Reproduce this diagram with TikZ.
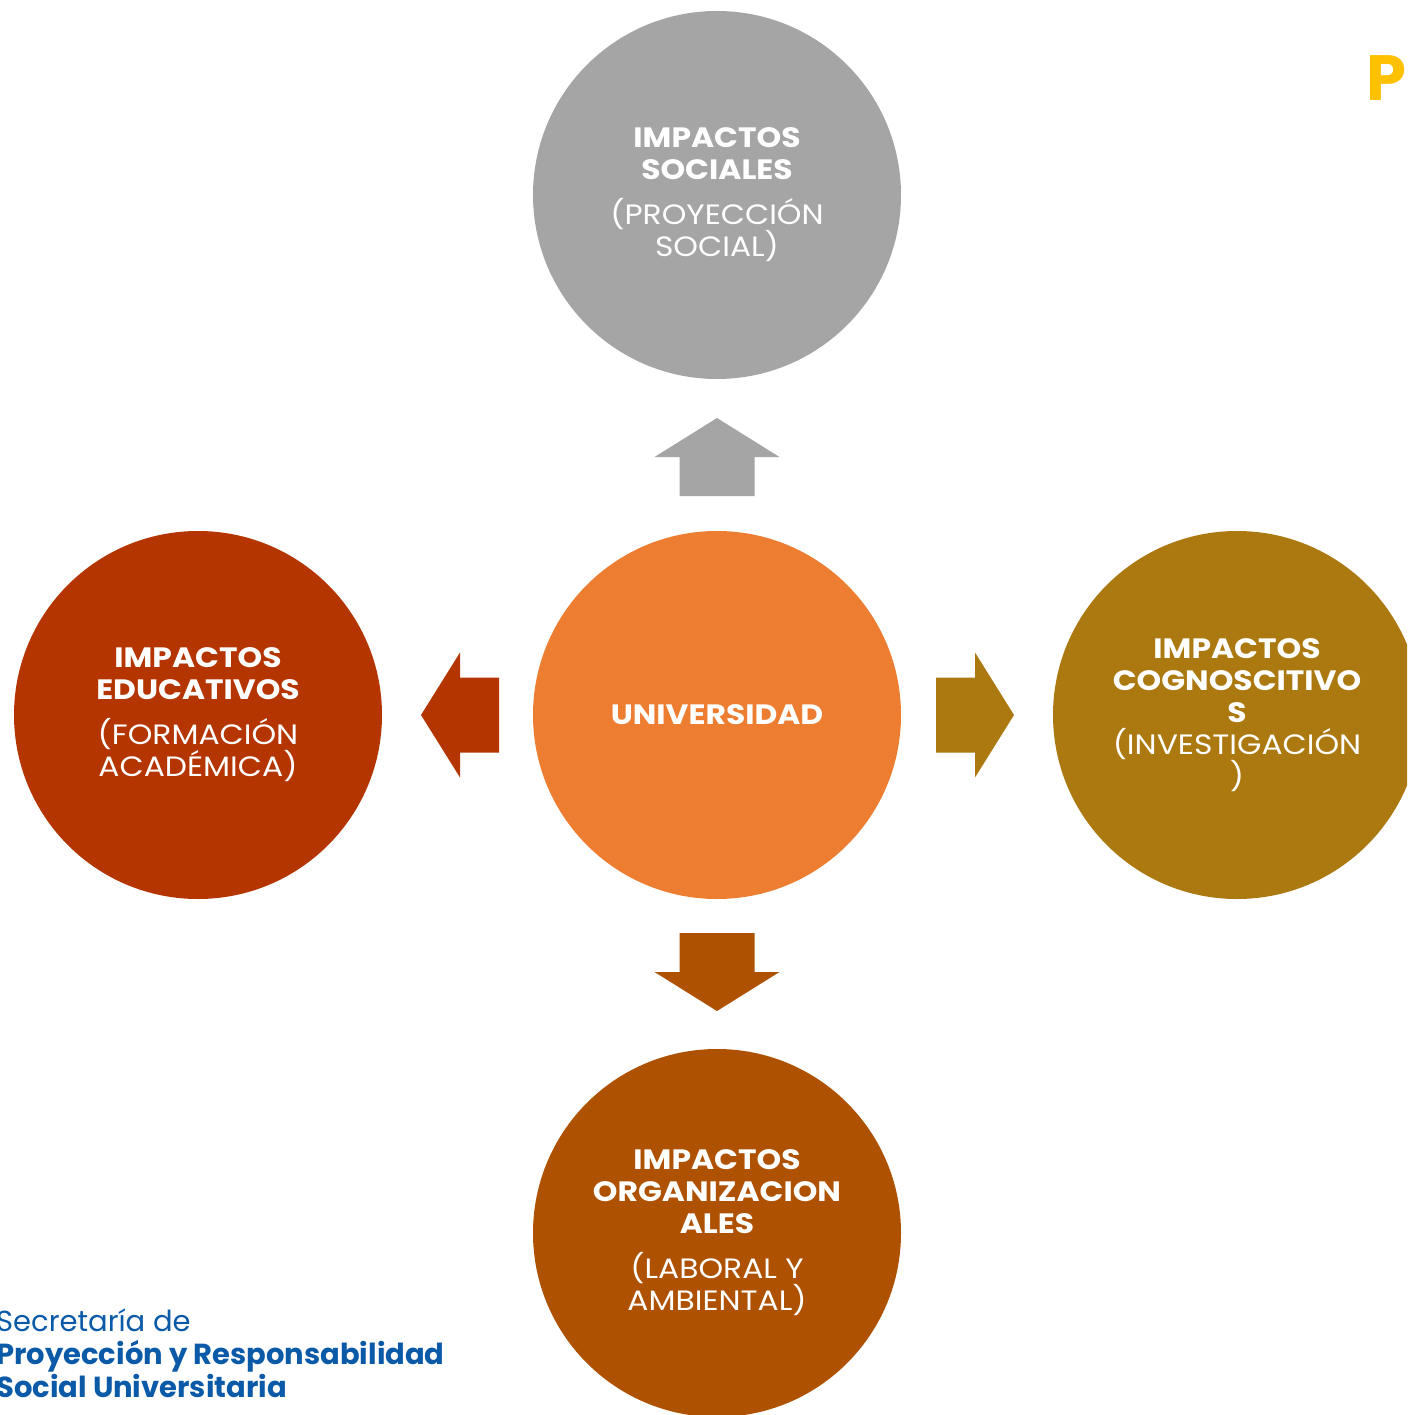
\documentclass[tikz,border=0pt]{standalone}
\usepackage{fontspec}
\setmainfont{Poppins}
\newfontfamily\circfont{Poppins}[FakeStretch=1.12]
\definecolor{cgray}{HTML}{A5A5A5}
\definecolor{corange}{HTML}{ED7D31}
\definecolor{cred}{HTML}{B43500}
\definecolor{cgold}{HTML}{AC7810}
\definecolor{cbrown}{HTML}{AE5100}
\definecolor{cyellow}{HTML}{FFC000}
\definecolor{cblue}{HTML}{0A5AA8}
\begin{document}
\begin{tikzpicture}[x=1pt,y=-1pt,
  circ/.style={circle, minimum size=368pt, inner sep=0pt, text=white, align=center,
    font=\circfont\fontsize{28}{32}\selectfont},
  logo/.style={anchor=base west, inner sep=0pt, text=cblue, font=\fontsize{29}{33}\selectfont}]
\useasboundingbox (0,0) rectangle (1407,1415);
\clip (0,0) rectangle (1407,1415);
\node[circ, fill=corange] (uni) at (717,715) {\textbf{UNIVERSIDAD}};
\node[circ, fill=cgray] (soc) at (717,195) {\textbf{IMPACTOS}\\\textbf{SOCIALES}\\[13pt](PROYECCIÓN\\SOCIAL)};
\node[circ, fill=cred] (edu) at (198,715) {\textbf{IMPACTOS}\\\textbf{EDUCATIVOS}\\[13pt](FORMACIÓN\\ACADÉMICA)};
\node[circ, fill=cgold] (cog) at (1237,715) {\textbf{IMPACTOS}\\\textbf{COGNOSCITIVO}\\\textbf{S}\\(INVESTIGACIÓN\\)};
\node[circ, fill=cbrown] (org) at (717,1233) {\textbf{IMPACTOS}\\\textbf{ORGANIZACION}\\\textbf{ALES}\\[13pt](LABORAL Y\\AMBIENTAL)};
% block arrows from the centre circle
\fill[cgray, shift={(uni.center)}] (-37.5,-219) -- (-37.5,-258) -- (-62.5,-258) -- (0,-297) -- (62.5,-258) -- (37.5,-258) -- (37.5,-219) -- cycle;
\fill[cbrown, shift={(uni.center)}] (-37.5,218) -- (-37.5,257) -- (-62.5,257) -- (0,296) -- (62.5,257) -- (37.5,257) -- (37.5,218) -- cycle;
\fill[cred, shift={(uni.center)}] (-218,-37.5) -- (-257,-37.5) -- (-257,-62.5) -- (-296,0) -- (-257,62.5) -- (-257,37.5) -- (-218,37.5) -- cycle;
\fill[cgold, shift={(uni.center)}] (219,-37.5) -- (258,-37.5) -- (258,-62.5) -- (297,0) -- (258,62.5) -- (258,37.5) -- (219,37.5) -- cycle;
% title fragment and logo text
\node[anchor=base west, inner sep=0pt, text=cyellow, font=\fontsize{64}{68}\selectfont\bfseries] (ttl) at (1366,101) {P};
\node[logo] (l1) at (-4,1331) {Secretaría de};
\node[logo, font=\fontsize{29}{33}\selectfont\bfseries] (l2) at (-4,1364) {Proyección y Responsabilidad};
\node[logo, font=\fontsize{29}{33}\selectfont\bfseries] (l3) at (-4,1397) {Social Universitaria};
\end{tikzpicture}
\end{document}
